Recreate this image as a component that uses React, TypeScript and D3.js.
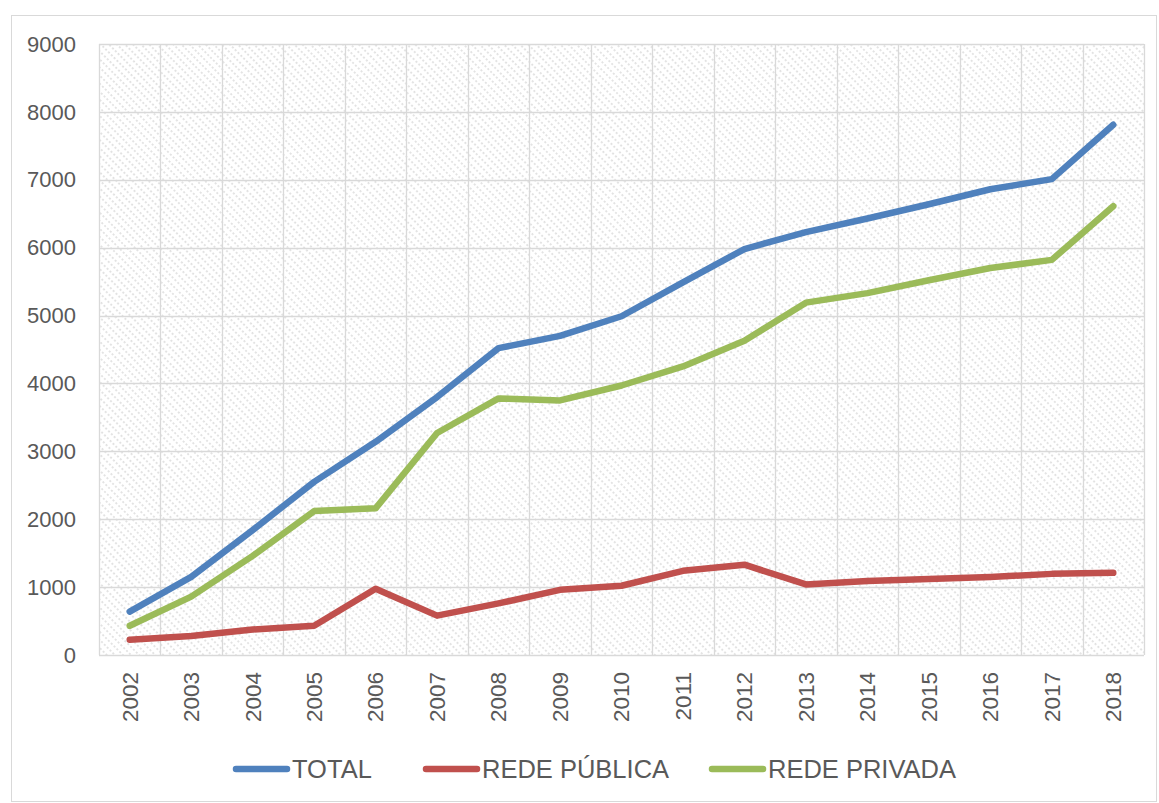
import React, { useRef, useEffect } from 'react';
import * as d3 from 'd3';

const years = ['2002', '2003', '2004', '2005', '2006', '2007', '2008', '2009', '2010', '2011', '2012', '2013', '2014', '2015', '2016', '2017', '2018'];
const total = [640, 1150, 1840, 2550, 3140, 3800, 4520, 4700, 4990, 5490, 5980, 6230, 6430, 6640, 6860, 7010, 7810];
const redePublica = [225, 280, 375, 430, 975, 580, 760, 960, 1020, 1240, 1330, 1040, 1090, 1120, 1150, 1195, 1210];
const redePrivada = [430, 860, 1460, 2120, 2160, 3270, 3780, 3750, 3970, 4250, 4630, 5190, 5330, 5520, 5700, 5820, 6610];
const yTicks = [0, 1000, 2000, 3000, 4000, 5000, 6000, 7000, 8000, 9000];

const series = [
  { name: 'TOTAL', values: total, color: '#4f81bd' },
  { name: 'REDE PÚBLICA', values: redePublica, color: '#c0504d' },
  { name: 'REDE PRIVADA', values: redePrivada, color: '#9bbb59' },
];

const W = 1159;
const H = 803;

const App: React.FC = () => {
  const ref = useRef<SVGSVGElement>(null);

  useEffect(() => {
    if (!ref.current) return;
    const svg = d3.select(ref.current);
    svg.selectAll('*').remove();

    const margin = { top: 44, right: 15, bottom: 148, left: 99 };
    const width = W - margin.left - margin.right;
    const height = H - margin.top - margin.bottom;
    const font = '"Liberation Sans", Arial, sans-serif';

    // outer frame
    svg.append('rect')
      .attr('x', 11.5).attr('y', 15.5)
      .attr('width', W - 14).attr('height', H - 17)
      .attr('fill', '#fff').attr('stroke', '#d9d9d9');

    // hatch pattern, "\" direction, dotted
    const defs = svg.append('defs');
    const pat = defs.append('pattern')
      .attr('id', 'hatch')
      .attr('patternUnits', 'userSpaceOnUse')
      .attr('width', 5.7).attr('height', 4)
      .attr('patternTransform', 'rotate(-45)');
    pat.append('rect').attr('width', 5.7).attr('height', 4).attr('fill', '#fff');
    pat.append('line')
      .attr('x1', 1).attr('y1', 0).attr('x2', 1).attr('y2', 4)
      .attr('stroke', '#dadada').attr('stroke-width', 1.4)
      .attr('stroke-dasharray', '2,2');

    const g = svg.append('g').attr('transform', `translate(${margin.left},${margin.top})`);

    const x = d3.scaleBand().domain(years).range([0, width]);
    const y = d3.scaleLinear().domain([0, 9000]).range([height, 0]);

    g.append('rect').attr('width', width).attr('height', height).attr('fill', 'url(#hatch)');

    // gridlines
    g.selectAll('.hgrid').data(yTicks).enter().append('line')
      .attr('x1', 0).attr('x2', width)
      .attr('y1', d => Math.round(y(d)) + 0.5).attr('y2', d => Math.round(y(d)) + 0.5)
      .attr('stroke', '#d9d9d9').attr('stroke-width', 1.3);
    const bounds = years.map(d => x(d) || 0).concat([width]);
    g.selectAll('.vgrid').data(bounds).enter().append('line')
      .attr('x1', d => Math.round(d) + 0.5).attr('x2', d => Math.round(d) + 0.5)
      .attr('y1', 0).attr('y2', height)
      .attr('stroke', '#d9d9d9').attr('stroke-width', 1.3);

    // y labels
    g.selectAll('.ylab').data(yTicks).enter().append('text')
      .attr('x', -23).attr('y', d => y(d))
      .attr('dy', '0.35em')
      .attr('text-anchor', 'end')
      .attr('font-family', font).attr('font-size', 22)
      .attr('fill', '#595959')
      .text(d => d);

    // x labels
    years.forEach(yr => {
      const cx = (x(yr) || 0) + x.bandwidth() / 2;
      g.append('text')
        .attr('transform', `translate(${cx},${height + 17}) rotate(-90)`)
        .attr('text-anchor', 'end')
        .attr('dy', '0.35em')
        .attr('font-family', font).attr('font-size', 22.5)
        .attr('fill', '#595959')
        .text(yr);
    });

    // lines
    const line = d3.line<number>()
      .x((d, i) => (x(years[i]) || 0) + x.bandwidth() / 2)
      .y(d => y(d));
    series.forEach(s => {
      g.append('path')
        .datum(s.values)
        .attr('fill', 'none')
        .attr('stroke', s.color)
        .attr('stroke-width', 6.5)
        .attr('stroke-linecap', 'round')
        .attr('stroke-linejoin', 'round')
        .attr('d', line);
    });

    // legend
    const legX = [233, 423, 709];
    const legY = 769;
    series.forEach((s, i) => {
      svg.append('line')
        .attr('x1', legX[i] + 3).attr('x2', legX[i] + 54)
        .attr('y1', legY).attr('y2', legY)
        .attr('stroke', s.color).attr('stroke-width', 6.5)
        .attr('stroke-linecap', 'round');
      svg.append('text')
        .attr('x', legX[i] + 59).attr('y', legY)
        .attr('dy', '0.36em')
        .attr('font-family', font).attr('font-size', 25.5)
        .attr('fill', '#595959')
        .text(s.name);
    });
  }, []);

  return (
    <div style={{ position: 'absolute', left: 0, top: 0 }}>
      <svg ref={ref} width={W} height={H} style={{ display: 'block' }} />
    </div>
  );
};

export default App;
